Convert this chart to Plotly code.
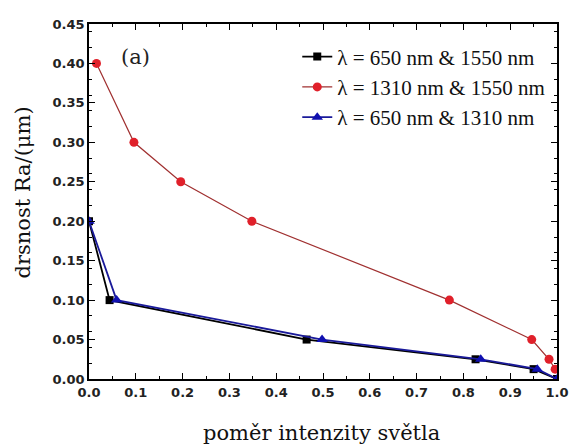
import plotly.graph_objects as go

x_black = [0.0, 0.044, 0.465, 0.826, 0.95, 1.0]
y_black = [0.20, 0.10, 0.05, 0.025, 0.0125, 0.0]

x_red = [0.016, 0.096, 0.196, 0.348, 0.770, 0.946, 0.983, 0.996]
y_red = [0.40, 0.30, 0.25, 0.20, 0.10, 0.05, 0.025, 0.0125]

x_blue = [0.0, 0.059, 0.498, 0.837, 0.958, 1.0]
y_blue = [0.20, 0.10, 0.05, 0.025, 0.0125, 0.0]

names = ["λ = 650 nm & 1550 nm", "λ = 1310 nm & 1550 nm", "λ = 650 nm & 1310 nm"]
x_ticks = [0.0, 0.1, 0.2, 0.3, 0.4, 0.5, 0.6, 0.7, 0.8, 0.9, 1.0]
y_ticks = [0.00, 0.05, 0.10, 0.15, 0.20, 0.25, 0.30, 0.35, 0.40, 0.45]

serif = "Liberation Serif"
serif2 = "DejaVu Serif"

fig = go.Figure()
fig.add_trace(go.Scatter(x=x_black, y=y_black, name=names[0], mode="lines+markers",
                         line=dict(color="black", width=1.8),
                         marker=dict(symbol="square", size=8, color="black")))
fig.add_trace(go.Scatter(x=x_red, y=y_red, name=names[1], mode="lines+markers",
                         line=dict(color="#a03030", width=1.2),
                         marker=dict(symbol="circle", size=9, color="#e0202a")))
fig.add_trace(go.Scatter(x=x_blue, y=y_blue, name=names[2], mode="lines+markers",
                         line=dict(color="#1a1a9a", width=1.8),
                         marker=dict(symbol="triangle-up", size=10, color="#1010b0")))

axis_common = dict(showgrid=False, zeroline=False, showline=True, linecolor="black",
                   linewidth=1.8, mirror="allticks", ticks="inside", ticklen=6,
                   tickcolor="black", tickwidth=1.4,
                   tickfont=dict(family="DejaVu Sans", size=13, color="#222", weight="bold"),
                   minor=dict(ticks="inside", ticklen=3, tickcolor="black"))

fig.update_xaxes(range=[0, 1.0], tickvals=x_ticks, ticktext=[f"{v:.1f}" for v in x_ticks],
                 **axis_common)
fig.update_yaxes(range=[0, 0.45], tickvals=y_ticks, ticktext=[f"{v:.2f}" for v in y_ticks],
                 **axis_common)

# axis titles
fig.add_annotation(xref="paper", yref="paper", x=0.497, y=-0.152, text="poměr intenzity světla",
                   showarrow=False, xanchor="center", yanchor="middle",
                   font=dict(family=serif2, size=21, color="#111"))
fig.add_annotation(xref="paper", yref="paper", x=-0.142, y=0.524, text="drsnost Ra/(μm)",
                   showarrow=False, xanchor="center", yanchor="middle", textangle=-90,
                   font=dict(family=serif2, size=21, color="#111"))

fig.add_annotation(x=0.10, y=0.408, text="(a)", showarrow=False,
                   font=dict(family=serif2, size=21, color="#222"))

fig.update_layout(
    width=581, height=446,
    margin=dict(l=89, r=13, t=24, b=67),
    plot_bgcolor="white", paper_bgcolor="white",
    legend=dict(x=0.445, y=0.965, xanchor="left", yanchor="top",
                font=dict(family=serif, size=21, color="#111"),
                bgcolor="rgba(0,0,0,0)", tracegroupgap=0),
    showlegend=True,
)

fig.write_html("out.html")
